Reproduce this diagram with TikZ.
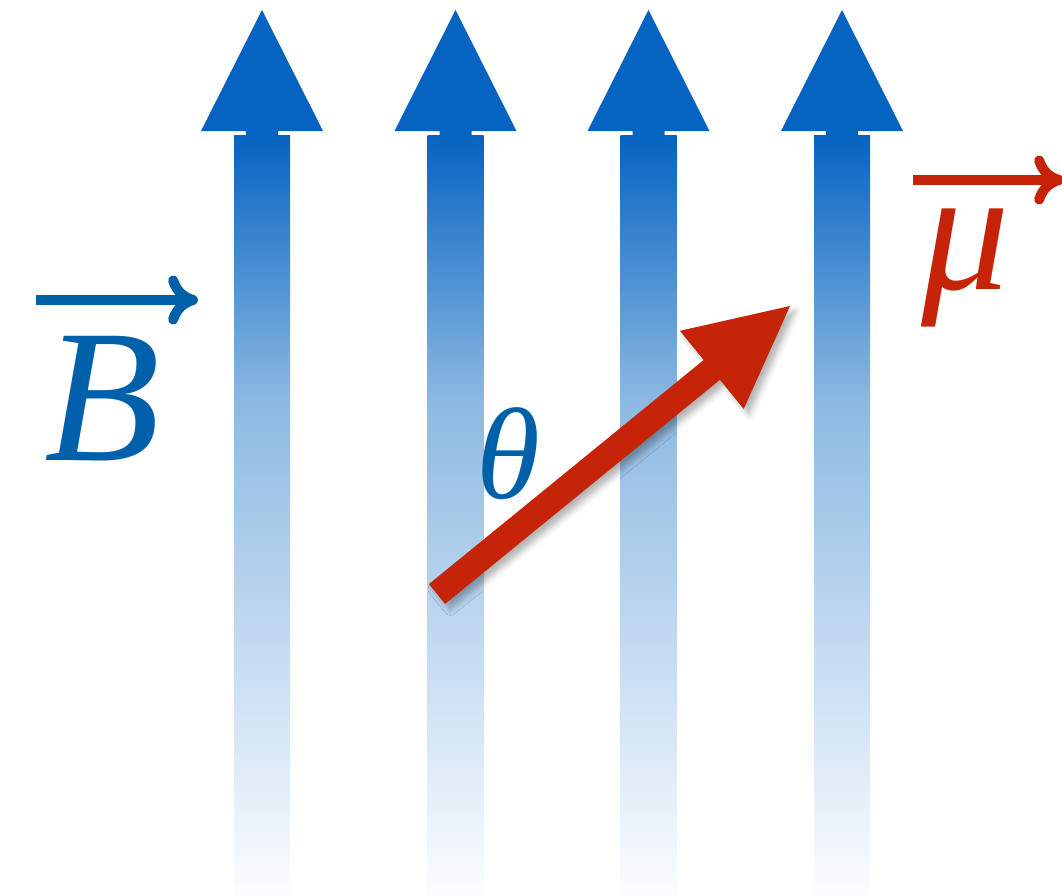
\documentclass[tikz,border=0pt]{standalone}
\usepackage{fontspec}
\setmainfont{Liberation Serif}
\usetikzlibrary{arrows.meta, shadows.blur}

\definecolor{fieldblue}{RGB}{5,99,193}
\definecolor{fieldmid}{RGB}{140,185,226}
\definecolor{fieldfade}{RGB}{252,253,255}
\definecolor{labelblue}{RGB}{0,97,170}
\definecolor{momentred}{RGB}{198,36,8}

\begin{document}
\begin{tikzpicture}[
        x={(0.02cm,0)}, y={(0,-0.02cm)},
        fieldhead/.style={fill=fieldblue},
        fieldtop/.style={top color=fieldblue, bottom color=fieldmid},
        fieldbot/.style={top color=fieldmid, bottom color=fieldfade},
        moment/.style={fill=momentred, blur shadow={shadow xshift=3pt, shadow yshift=-3pt, shadow blur radius=3.5pt, shadow opacity=30}},
        lbl/.style={inner sep=0pt, anchor=base west},
        vecarrow/.style={line width=5.7pt, -{Computer Modern Rightarrow[length=17pt, width=28pt]}}
    ]
        \useasboundingbox (0,0) rectangle (1062,896);
        \clip (0,0) rectangle (1062,896);

        % Field lines
        \foreach \fx in {262,455.5,648.5,842}{
            \path[fieldtop] (\fx-28,135) rectangle (\fx+28,401);
            \path[fieldbot] (\fx-28,400) rectangle (\fx+28,896);
            \fill[fieldhead] (\fx-61,131) -- (\fx,10) -- (\fx+61,131) -- (\fx+16,131) -- (\fx+16,136) -- (\fx-16,136) -- (\fx-16,131) -- cycle;
        }

        % Labels
        \node[lbl, text=labelblue, font=\fontsize{108}{108}\selectfont\itshape] (bfield) at (44,460) {B};
        \node[lbl, text=momentred, font=\fontsize{100}{100}\selectfont\itshape] (mu) at (921,289) {μ};
        \node[lbl, text=labelblue, font=\fontsize{74}{74}\selectfont\itshape] (theta) at (476,498) {θ};

        % Vector arrows over the labels
        \draw[vecarrow, labelblue] ([shift={(-8,-160)}]bfield.base west) -- ([shift={(154,-160)}]bfield.base west);
        \draw[vecarrow, momentred] ([shift={(-8,-109)}]mu.base west) -- ([shift={(143,-109)}]mu.base west);

        % Magnetic moment
        \fill[moment] (428.9,584.1) -- (703.7,360.0) -- (679.9,330.8) -- (790,306) -- (743.7,409.0) -- (719.9,379.8) -- (445.1,603.9) -- cycle;
    \end{tikzpicture}
\end{document}
